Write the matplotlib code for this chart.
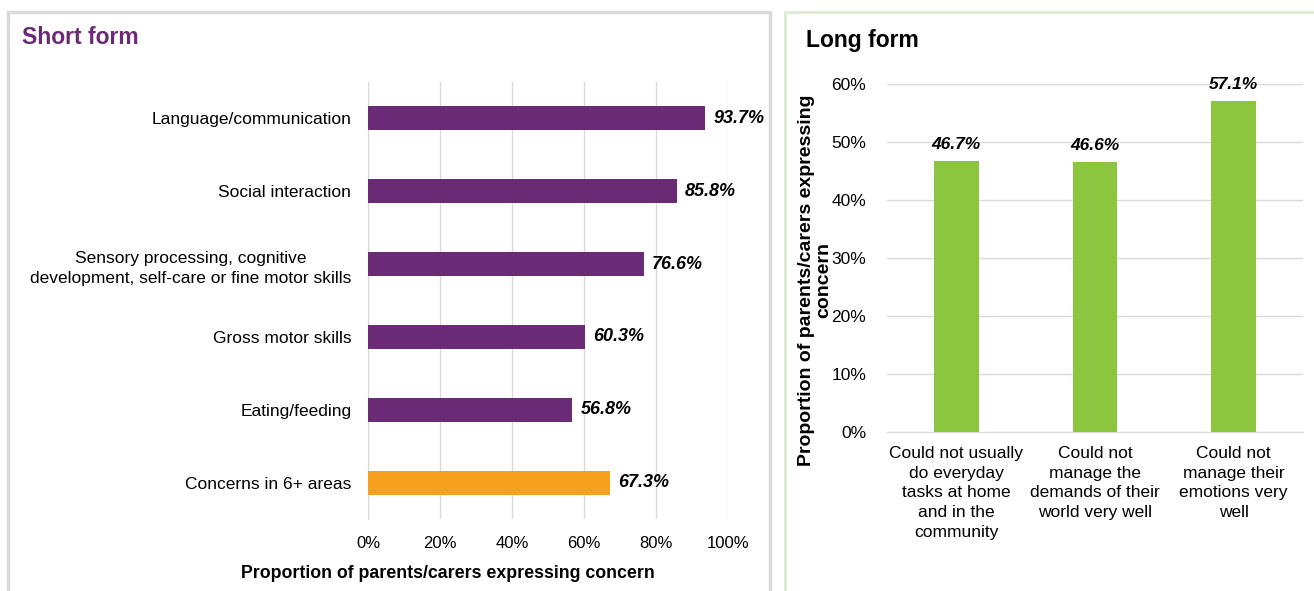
import matplotlib
matplotlib.use("Agg")
import matplotlib.pyplot as plt
from matplotlib.patches import Rectangle
from matplotlib.ticker import PercentFormatter

plt.rcParams['font.family'] = ['Liberation Sans', 'DejaVu Sans']

# Short form data
short_categories = [
    "Language/communication",
    "Social interaction",
    "Sensory processing, cognitive\ndevelopment, self-care or fine motor skills",
    "Gross motor skills",
    "Eating/feeding",
    "Concerns in 6+ areas",
]
short_values = [93.7, 85.8, 76.6, 60.3, 56.8, 67.3]
short_colors = ["#6B2A76"] * 5 + ["#F6A11E"]
short_ticks = [0, 20, 40, 60, 80, 100]

# Long form data
long_categories = [
    "Could not usually\ndo everyday\ntasks at home\nand in the\ncommunity",
    "Could not\nmanage the\ndemands of their\nworld very well",
    "Could not\nmanage their\nemotions very\nwell",
]
long_values = [46.7, 46.6, 57.1]
long_ticks = [0, 10, 20, 30, 40, 50, 60]

W, H = 1314, 591
fig = plt.figure(figsize=(W / 100, H / 100), dpi=100)


def px_axes(left, top, right, bottom):
    return fig.add_axes([left / W, (H - bottom) / H, (right - left) / W, (bottom - top) / H])


def fx(px):
    return px / W


def fy(px):
    return 1 - px / H


# Panel frames
fig.patches.append(Rectangle((8 / W, -0.01), 762 / W, (H - 12) / H + 0.01,
                             transform=fig.transFigure, fill=False,
                             edgecolor="#DADADA", linewidth=2.5))
fig.patches.append(Rectangle((785 / W, -0.01), (W - 785 + 5) / W, (H - 12) / H + 0.01,
                             transform=fig.transFigure, fill=False,
                             edgecolor="#DCEBCF", linewidth=2))

# ---- Short form (horizontal bars)
ax1 = px_axes(368, 82, 728, 519)
ypos = list(range(len(short_categories)))
ax1.barh(ypos, short_values, height=0.33, color=short_colors, zorder=3)
ax1.set_ylim(len(short_categories) - 0.5, -0.5)
ax1.set_xlim(0, 100)
ax1.set_xticks(short_ticks)
ax1.xaxis.set_major_formatter(PercentFormatter(decimals=0))
ax1.set_yticks(ypos)
ax1.set_yticklabels(short_categories, fontsize=12.5, ha="right", multialignment="center",
                    linespacing=1.45)
ax1.tick_params(axis="y", length=0, pad=12)
ax1.tick_params(axis="x", length=0, pad=12, labelsize=12)
ax1.grid(axis="x", color="#D9D9D9", linewidth=1, zorder=0)
for s in ["top", "right", "bottom"]:
    ax1.spines[s].set_visible(False)
ax1.spines["left"].set_color("#D9D9D9")
for y, v in zip(ypos, short_values):
    ax1.text(v + 2.3, y, f"{v:.1f}%", va="center", ha="left", fontsize=13,
             fontweight="bold", fontstyle="italic", zorder=4)
fig.text(fx(448), fy(574), "Proportion of parents/carers expressing concern",
         fontsize=12.8, fontweight="bold", ha="center", va="center")
fig.text(fx(22), fy(38), "Short form", color="#6B2A76", fontsize=16.5,
         fontweight="bold", va="center", ha="left")

# ---- Long form (vertical bars)
ax2 = px_axes(887, 84, 1303, 432)
xpos = list(range(len(long_categories)))
ax2.bar(xpos, long_values, width=0.32, color="#8CC63F", zorder=3)
ax2.set_xlim(-0.5, len(long_categories) - 0.5)
ax2.set_ylim(0, 60)
ax2.set_yticks(long_ticks)
ax2.yaxis.set_major_formatter(PercentFormatter(decimals=0))
ax2.set_xticks(xpos)
ax2.set_xticklabels(long_categories, fontsize=12.5, linespacing=1.4)
ax2.tick_params(axis="x", length=0, pad=10)
ax2.tick_params(axis="y", length=0, pad=15, labelsize=12.5)
ax2.grid(axis="y", color="#D9D9D9", linewidth=1, zorder=0)
for s in ["top", "right", "left"]:
    ax2.spines[s].set_visible(False)
ax2.spines["bottom"].set_color("#D9D9D9")
for x, v in zip(xpos, long_values):
    ax2.text(x, v + 1.5, f"{v:.1f}%", va="bottom", ha="center", fontsize=12.5,
             fontweight="bold", fontstyle="italic", zorder=4, clip_on=False)
fig.text(fx(815), fy(280), "Proportion of parents/carers expressing\nconcern",
         fontsize=14, fontweight="bold", rotation=90, ha="center", va="center",
         linespacing=1.0)
fig.text(fx(806), fy(41), "Long form", color="black", fontsize=16.5,
         fontweight="bold", va="center", ha="left")

fig.savefig("out.png", dpi=100)
